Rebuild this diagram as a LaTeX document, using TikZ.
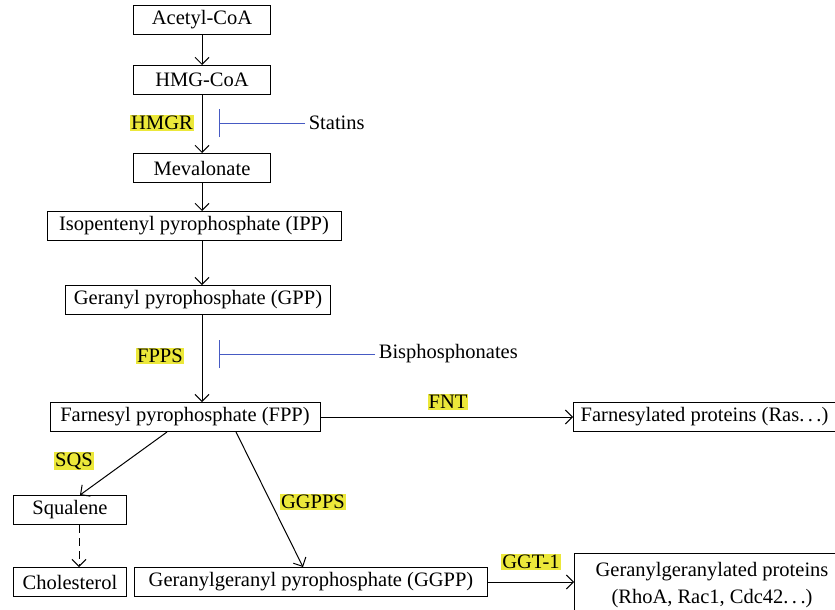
\documentclass[tikz,border=0pt]{standalone}
\usepackage{fontspec}
\setmainfont{Liberation Serif}
\usetikzlibrary{arrows.meta}
\definecolor{hilite}{RGB}{236,232,58}
\definecolor{inhib}{RGB}{70,90,195}

\begin{document}
\begin{tikzpicture}[x=1pt, y=-1pt, line width=1pt,
    >={Straight Barb[length=7pt, width=14pt]},
    every node/.style={font=\fontsize{20.5}{27}\selectfont},
    box/.style={draw, minimum height=29pt, inner sep=3pt},
    enzyme/.style={fill=hilite, inner sep=1pt},
    block/.style={draw=inhib, line width=0.8pt, -{Bar[width=28pt]}}]

    \clip (0,0) rectangle (835,610);

    % main chain
    \node[box, minimum width=137pt] (acetyl) at (202,20) {Acetyl-CoA};
    \node[box, minimum width=137pt] (hmg) at (202,80) {HMG-CoA};
    \node[box, minimum width=137pt] (meva) at (202,168) {Mevalonate};
    \node[box, minimum width=294pt] (ipp) at (194,226) {Isopentenyl pyrophosphate (IPP)};
    \node[box, minimum width=265pt] (gpp) at (198,300) {Geranyl pyrophosphate (GPP)};
    \node[box, minimum width=270pt] (fpp) at (185,417) {Farnesyl pyrophosphate (FPP)};

    \draw[->] (acetyl) -- (hmg);
    \draw[->] (hmg) -- (meva);
    \draw[->] (meva.south) -- (meva.south |- ipp.north);
    \draw[->] (ipp.south -| meva.south) -- (gpp.north -| meva.south);
    \draw[->] (gpp.south -| meva.south) -- (fpp.north -| meva.south);

    % HMGR / statins
    \node[enzyme] (hmgr) at (162,123) {HMGR};
    \node[anchor=west] (statins) at (305,123) {Statins};
    \coordinate (stop1) at (219,123);
    \draw[block] (statins.west) -- (stop1);

    % FPPS / bisphosphonates
    \node[enzyme] (fpps) at (160,356) {FPPS};
    \node[anchor=west] (bisph) at (375,354) {Bisphosphonates};
    \coordinate (stop2) at (219,354);
    \draw[block] (bisph.west) -- (stop2);

    % farnesylation
    \node[box, anchor=west, minimum width=262pt] (farn) at (573,417) {Farnesylated proteins (Ras.\,.\,.)};
    \draw[->] (fpp) -- (farn);
    \node[enzyme] (fnt) at (448,402) {FNT};

    % squalene branch
    \node[box, minimum width=113pt] (squal) at (70,510) {Squalene};
    \node[box, minimum width=113pt] (chol) at (70,582) {Cholesterol};
    \draw[->] ([xshift=-18pt]fpp.south) -- ([xshift=10pt]squal.north);
    \draw[->, dash pattern=on 8pt off 5pt] ([xshift=9pt]squal.south) -- ([xshift=9pt]chol.north);
    \node[enzyme] (sqs) at (74,461) {SQS};

    % geranylgeranyl branch
    \node[box, minimum width=353pt] (ggpp) at (311,582) {Geranylgeranyl pyrophosphate (GGPP)};
    \draw[->] ([xshift=51pt]fpp.south) -- ([xshift=-8pt]ggpp.north);
    \node[enzyme] (ggpps) at (313,502) {GGPPS};

    \node[box, anchor=north west, align=center, minimum width=275pt, minimum height=64pt] (gerprot) at (574,553)
        {Geranylgeranylated proteins\\(RhoA, Rac1, Cdc42.\,.\,.)};
    \draw[->] (ggpp.east) -- (ggpp.east -| gerprot.west);
    \node[enzyme] (ggt) at (531,562) {GGT-1};

\end{tikzpicture}
\end{document}
